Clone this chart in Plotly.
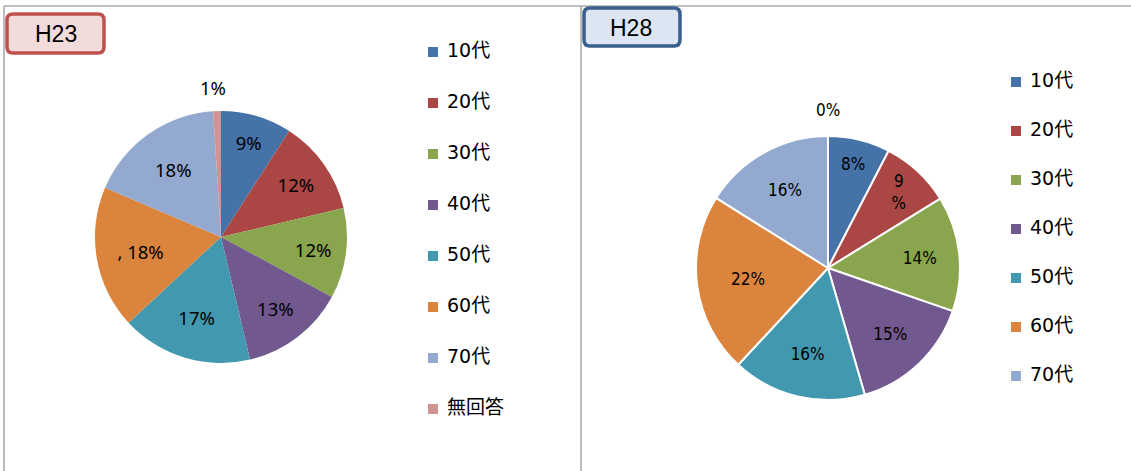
import plotly.graph_objects as go

W, H = 1131, 471

# ---------------- data ----------------
categories_h23 = ["10代", "20代", "30代", "40代", "50代", "60代", "70代", "無回答"]
values_h23 = [9.1, 12.2, 11.6, 13.4, 16.8, 18.3, 17.6, 1.0]
labels_h23 = ["9%", "12%", "12%", "13%", "17%", ", 18%", "18%", "1%"]

categories_h28 = ["10代", "20代", "30代", "40代", "50代", "60代", "70代"]
values_h28 = [7.6, 8.6, 14.1, 15.2, 16.4, 22.0, 16.1]
labels_h28 = ["8%", "9<br>%", "14%", "15%", "16%", "22%", "16%"]
noanswer_h28_label = "0%"

colors = ["#4572A7", "#AA4643", "#89A54E", "#71588F", "#4198AF",
          "#DB843D", "#93A9CF", "#D19392"]

NARROW = "DejaVu Sans Condensed, Arial Narrow, Liberation Sans, sans-serif"
LEGEND_FONT = "DejaVu Sans, Noto Sans CJK JP, sans-serif"


def px(x):
    return x / W


def py(y):
    return 1 - y / H


fig = go.Figure()

# H23 pie (no-answer label drawn separately above the pie)
fig.add_trace(go.Pie(
    labels=categories_h23, values=values_h23, text=labels_h23[:-1] + [""],
    texttemplate="%{text}", sort=False, direction="clockwise", rotation=0,
    marker=dict(colors=colors, line=dict(color="white", width=0)),
    textposition=["inside"] * 7 + ["none"],
    insidetextorientation="horizontal",
    textfont=dict(family="Noto Sans", size=18.5, color="black"),
    domain=dict(x=[px(95), px(347)], y=[py(363), py(111)]),
    showlegend=False, hoverinfo="label+percent",
))

# H28 pie
fig.add_trace(go.Pie(
    labels=categories_h28, values=values_h28, text=labels_h28,
    texttemplate="%{text}", sort=False, direction="clockwise", rotation=0,
    marker=dict(colors=colors[:7], line=dict(color="white", width=2)),
    textposition="inside", insidetextorientation="horizontal",
    textfont=dict(family=NARROW, size=17, color="black"),
    domain=dict(x=[px(696), px(960)], y=[py(400), py(136)]),
    showlegend=False, hoverinfo="label+percent",
))

# Manual legends (category lists drawn via scatter on hidden axes)
n1 = len(categories_h23)
fig.add_trace(go.Scatter(
    x=[5] * n1, y=list(range(n1)), mode="markers",
    marker=dict(symbol="square", size=10, color=colors[:n1], line=dict(width=0)),
    xaxis="x", yaxis="y", showlegend=False, hoverinfo="skip"))
fig.add_trace(go.Scatter(
    x=[19] * n1, y=list(range(n1)), mode="text", text=categories_h23,
    textposition="middle right",
    textfont=dict(family=LEGEND_FONT, size=19, color="black"),
    xaxis="x", yaxis="y", showlegend=False, hoverinfo="skip"))

n2 = len(categories_h28)
fig.add_trace(go.Scatter(
    x=[5] * n2, y=list(range(n2)), mode="markers",
    marker=dict(symbol="square", size=10, color=colors[:n2], line=dict(width=0)),
    xaxis="x2", yaxis="y2", showlegend=False, hoverinfo="skip"))
fig.add_trace(go.Scatter(
    x=[19] * n2, y=list(range(n2)), mode="text", text=categories_h28,
    textposition="middle right",
    textfont=dict(family=LEGEND_FONT, size=19, color="black"),
    xaxis="x2", yaxis="y2", showlegend=False, hoverinfo="skip"))

hidden = dict(visible=False, showgrid=False, zeroline=False, fixedrange=True)
# left legend: item i at pixel 52 + 51*i
s1, t1 = 51.0, 52.0
# right legend: item i at pixel 82 + 49*i
s2, t2 = 49.0, 82.0

fig.update_layout(
    width=W, height=H,
    margin=dict(l=0, r=0, t=0, b=0),
    paper_bgcolor="white", plot_bgcolor="rgba(0,0,0,0)",
    xaxis=dict(domain=[px(428), px(578)], range=[0, 150], **hidden),
    yaxis=dict(domain=[0, 1], range=[(H - t1) / s1, -t1 / s1], anchor="x", **hidden),
    xaxis2=dict(domain=[px(1011), px(1131)], range=[0, 120], anchor="y2", **hidden),
    yaxis2=dict(domain=[0, 1], range=[(H - t2) / s2, -t2 / s2], anchor="x2", **hidden),
    showlegend=False,
)


def rrect(x0, y0, x1, y1, r):
    pts = [
        ("M", [(x0 + r, y0)]), ("L", [(x1 - r, y0)]), ("Q", [(x1, y0), (x1, y0 + r)]),
        ("L", [(x1, y1 - r)]), ("Q", [(x1, y1), (x1 - r, y1)]),
        ("L", [(x0 + r, y1)]), ("Q", [(x0, y1), (x0, y1 - r)]),
        ("L", [(x0, y0 + r)]), ("Q", [(x0, y0), (x0 + r, y0)]),
    ]
    s = ""
    for cmd, ps in pts:
        s += cmd + " ".join(f"{px(a):.5f},{py(b):.5f}" for a, b in ps) + " "
    return s + "Z"


shapes = [
    # panel frames
    dict(type="line", xref="paper", yref="paper", x0=px(4), x1=1, y0=py(6), y1=py(6),
         line=dict(color="#BFBFBF", width=2)),
    dict(type="line", xref="paper", yref="paper", x0=px(4), x1=px(4), y0=0, y1=py(6),
         line=dict(color="#A6A6A6", width=1.5)),
    dict(type="line", xref="paper", yref="paper", x0=px(581), x1=px(581), y0=0, y1=py(6),
         line=dict(color="#A6A6A6", width=1.5)),
    # title boxes
    dict(type="path", xref="paper", yref="paper", path=rrect(7, 14, 104, 53, 6),
         fillcolor="#F2DCDB", line=dict(color="#C0504D", width=3.5)),
    dict(type="path", xref="paper", yref="paper", path=rrect(584, 8, 680, 46, 6),
         fillcolor="#DCE6F2", line=dict(color="#3A5F8B", width=3.5)),
]
fig.update_layout(shapes=shapes)

annotations = [
    dict(text="H23", x=px(56), y=py(34), xref="paper", yref="paper", showarrow=False,
         xanchor="center", yanchor="middle",
         font=dict(family="Liberation Sans", size=23, color="black")),
    dict(text="H28", x=px(631), y=py(28), xref="paper", yref="paper", showarrow=False,
         xanchor="center", yanchor="middle",
         font=dict(family="Liberation Sans", size=23, color="black")),
    dict(text=labels_h23[-1], x=px(213), y=py(88), xref="paper", yref="paper",
         showarrow=False, xanchor="center", yanchor="middle",
         font=dict(family="Noto Sans", size=18.5, color="black")),
    dict(text=noanswer_h28_label, x=px(828), y=py(110), xref="paper", yref="paper",
         showarrow=False, xanchor="center", yanchor="middle",
         font=dict(family=NARROW, size=17, color="black")),
]
fig.update_layout(annotations=annotations)

fig.write_html("out.html", config={"displayModeBar": False},
               post_script="document.body.style.margin='0';")
